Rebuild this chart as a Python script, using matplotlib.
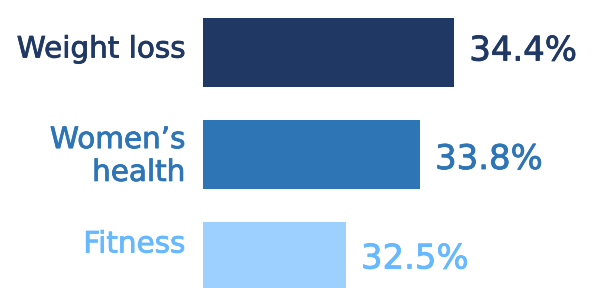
import matplotlib
matplotlib.use("Agg")
import matplotlib.pyplot as plt
import matplotlib.patheffects as pe

categories = ["Weight loss", "Women\u2019s\nhealth", "Fitness"]
values = [34.4, 33.8, 32.5]
value_labels = ["34.4%", "33.8%", "32.5%"]

bar_colors = ["#203864", "#2E75B6", "#9DCFFF"]
text_colors = ["#203864", "#2E75B6", "#66B8FF"]
baseline = 30.0
# vertical nudges (pixels, positive = up) for labels
cat_dy = [3, -2, 12]
val_dy = [1.5, -5, -2.5]

fig = plt.figure(figsize=(5.92, 2.88), dpi=100)
ax = fig.add_axes([0, 0, 1, 1])
px_per_unit = 57.0
xmin = baseline - 203 / px_per_unit
ax.set_xlim(xmin, xmin + 592 / px_per_unit)
ax.set_ylim((288 - 52.5) / 102, -52.5 / 102)
ax.axis("off")

ys = list(range(len(categories)))
ax.barh(ys, [v - baseline for v in values], left=baseline, height=0.676,
        color=bar_colors)

for i, (cat, v, lab) in enumerate(zip(categories, values, value_labels)):
    eff = [pe.withStroke(linewidth=0.6, foreground=text_colors[i])]
    ax.annotate(cat, xy=(baseline, i), xytext=(-18, cat_dy[i]),
                textcoords="offset pixels", ha="right", va="center",
                fontsize=21.2, color=text_colors[i], family="DejaVu Sans",
                linespacing=1.22, path_effects=eff)
    ax.annotate(lab, xy=(v, i), xytext=(15.5, val_dy[i]),
                textcoords="offset pixels", ha="left", va="center",
                fontsize=24.4, color=text_colors[i], family="DejaVu Sans",
                path_effects=eff)

fig.savefig("out.png", dpi=100)
